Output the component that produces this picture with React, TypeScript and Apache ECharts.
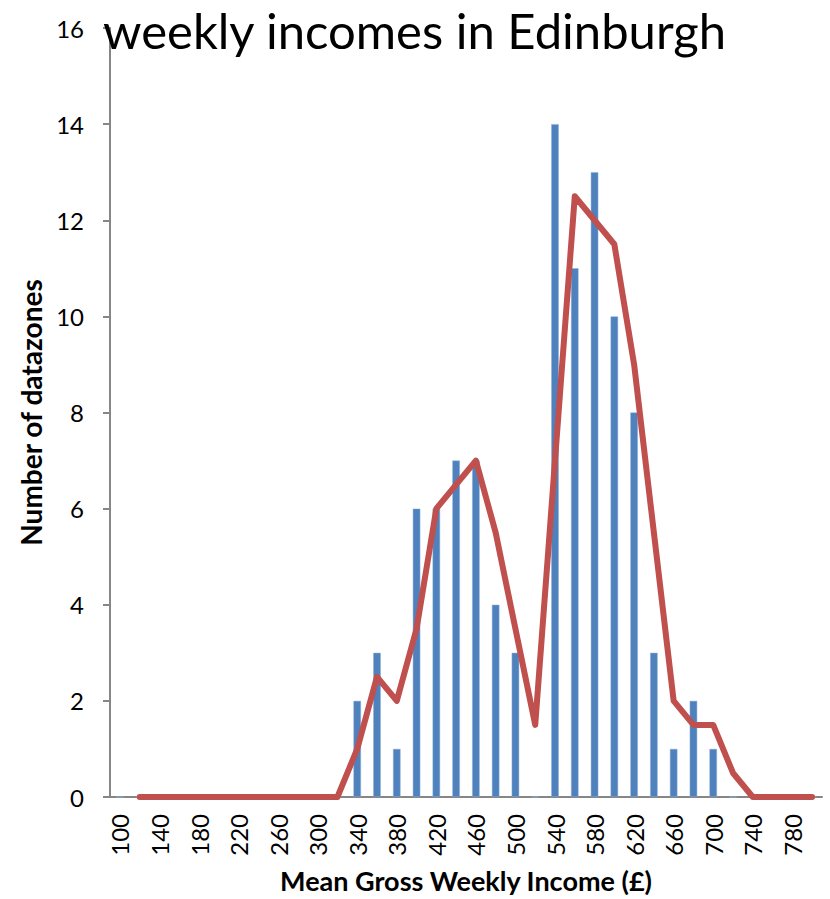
import React, { useEffect, useRef } from "react";
import * as echarts from "echarts";

// Income bands (£ per week), one per 20
const incomeBands: string[] = [
  "100", "120", "140", "160", "180", "200", "220", "240", "260", "280",
  "300", "320", "340", "360", "380", "400", "420", "440", "460", "480",
  "500", "520", "540", "560", "580", "600", "620", "640", "660", "680",
  "700", "720", "740", "760", "780", "800",
];

// Number of datazones in each band
const datazoneCounts: (number | null)[] = [
  0, 0, 0, 0, 0, 0, 0, 0, 0, 0,
  0, 0, 2, 3, 1, 6, 6, 7, 7, 4,
  3, 0, 14, 11, 13, 10, 8, 3, 1, 2,
  1, 0, 0, 0, 0, 0,
];

// Two-period moving average trend
const movingAverage: (number | null)[] = [
  null, 0, 0, 0, 0, 0, 0, 0, 0, 0,
  0, 0, 1, 2.5, 2, 3.5, 6, 6.5, 7, 5.5,
  3.5, 1.5, 7, 12.5, 12, 11.5, 9, 5.5, 2, 1.5,
  1.5, 0.5, 0, 0, 0, 0,
];

const yTicks = { min: 0, max: 16, interval: 2 };

const FONT = "Lato, 'Open Sans', sans-serif";

export default function App() {
  const ref = useRef<HTMLDivElement>(null);

  useEffect(() => {
    if (!ref.current) return;
    const chart = echarts.init(ref.current, undefined, { renderer: "svg" });
    chart.setOption({
      animation: false,
      backgroundColor: "#ffffff",
      title: {
        text: "weekly incomes in Edinburgh",
        left: 98,
        top: 0,
        textStyle: {
          fontFamily: FONT,
          fontSize: 49,
          fontWeight: "normal",
          color: "#000000",
        },
      },
      grid: { left: 110, right: 8, top: 28, bottom: 98, containLabel: false },
      xAxis: {
        type: "category",
        data: incomeBands,
        name: "Mean Gross Weekly Income (£)",
        nameLocation: "middle",
        nameGap: 70,
        nameTextStyle: {
          fontFamily: FONT,
          fontSize: 27,
          fontWeight: "bold",
          color: "#000000",
        },
        axisLine: { lineStyle: { color: "#868686", width: 2 } },
        axisTick: { show: false },
        axisLabel: {
          interval: 1,
          rotate: 90,
          margin: 17,
          fontFamily: FONT,
          fontSize: 24,
          color: "#000000",
        },
      },
      yAxis: {
        type: "value",
        min: yTicks.min,
        max: yTicks.max,
        interval: yTicks.interval,
        name: "Number of datazones",
        nameLocation: "middle",
        nameGap: 64,
        nameTextStyle: {
          fontFamily: FONT,
          fontSize: 28,
          fontWeight: "bold",
          color: "#000000",
        },
        splitLine: { show: false },
        axisLine: { show: true, lineStyle: { color: "#868686", width: 2 } },
        axisTick: { show: true, inside: false, length: 7, lineStyle: { color: "#868686", width: 2 } },
        axisLabel: {
          margin: 26,
          fontFamily: FONT,
          fontSize: 24,
          color: "#000000",
        },
      },
      series: [
        {
          name: "Datazones",
          type: "bar",
          data: datazoneCounts,
          barWidth: 7.5,
          itemStyle: { color: "#4F81BD", borderColor: "#8EB0DA", borderWidth: 0.5 },
        },
        {
          name: "2 per. Mov. Avg.",
          type: "line",
          data: movingAverage,
          symbol: "none",
          lineStyle: { color: "#C0504D", width: 6, cap: "round", join: "round" },
          itemStyle: { color: "#C0504D" },
        },
      ],
    });
    return () => chart.dispose();
  }, []);

  return <div ref={ref} style={{ width: 830, height: 899, position: "absolute", left: 0, top: 0 }} />;
}
